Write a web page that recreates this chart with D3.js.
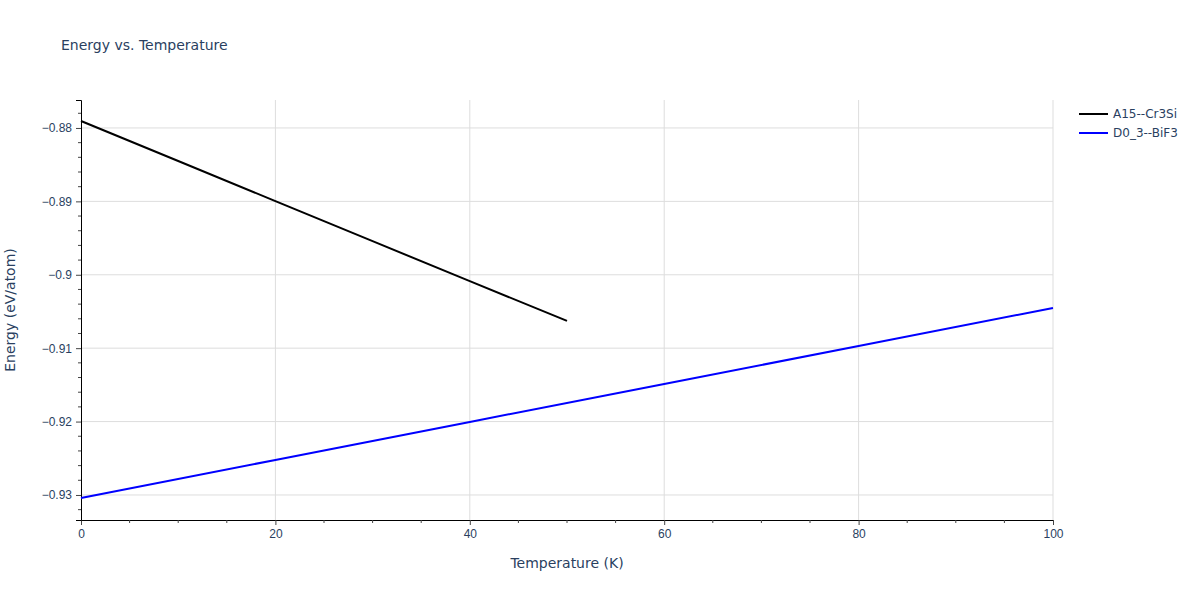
<!DOCTYPE html>
<html>
<head>
<meta charset="utf-8">
<script src="https://cdn.jsdelivr.net/npm/d3@7"></script>
<style>
  body { margin: 0; background: #fff; }
  svg { font-family: "DejaVu Sans", verdana, arial, sans-serif; }
</style>
</head>
<body>
<svg width="1200" height="600"></svg>
<script>
// datos
const seriesNames = ["A15--Cr3Si", "D0_3--BiF3"];
const seriesColors = ["#000000", "#0000ff"];
const tempA15 = [0, 10, 20, 30, 40, 50];
const energyA15 = [-0.87905, -0.88450, -0.88996, -0.89542, -0.90087, -0.90629];
const tempD03 = [0, 20, 40, 60, 80, 100];
const energyD03 = [-0.93041, -0.92523, -0.92005, -0.91488, -0.90970, -0.90452];
const xTicks = [0, 20, 40, 60, 80, 100];
const yTicks = [-0.88, -0.89, -0.9, -0.91, -0.92, -0.93];
const yTickLabels = ["\u22120.88", "\u22120.89", "\u22120.9", "\u22120.91", "\u22120.92", "\u22120.93"];

const svg = d3.select("svg");
const plotLeft = 81, plotRight = 1053, plotTop = 100, plotBottom = 520;
const textColor = "#2a3f5f";

const x = d3.scaleLinear().domain([0, 100]).range([plotLeft, plotRight]);
const y = d3.scaleLinear().domain([-0.93341, -0.87619]).range([plotBottom, plotTop]);

// rejilla
svg.append("g").selectAll("line").data(xTicks.slice(1)).enter().append("line")
  .attr("x1", d => x(d)).attr("x2", d => x(d))
  .attr("y1", plotTop).attr("y2", plotBottom)
  .attr("stroke", "#dddddd").attr("stroke-width", 1);
svg.append("g").selectAll("line").data(yTicks).enter().append("line")
  .attr("x1", plotLeft).attr("x2", plotRight)
  .attr("y1", d => y(d)).attr("y2", d => y(d))
  .attr("stroke", "#dddddd").attr("stroke-width", 1);

// ejes
const xMinor = d3.range(0, 101, 5).filter(d => d % 20 !== 0);
const yMinor = d3.range(-0.932, -0.8761, 0.002).filter(d => Math.abs(Math.round(d * 100) - d * 100) > 1e-6);

const xAxis = svg.append("g").attr("transform", `translate(0,${plotBottom})`);
xAxis.call(d3.axisBottom(x).tickValues(xTicks).tickSize(5).tickPadding(4).tickFormat(d3.format("d")));
xAxis.selectAll("line").attr("stroke", "#444").attr("stroke-width", 1);
xAxis.select(".domain").attr("stroke", "#000");
xAxis.selectAll("text").attr("fill", textColor).style("font-size", "12px");
xAxis.selectAll(".minor").data(xMinor).enter().append("line").attr("class", "minor")
  .attr("x1", d => x(d)).attr("x2", d => x(d)).attr("y1", 0).attr("y2", 3)
  .attr("stroke", "#444");

const yAxis = svg.append("g").attr("transform", `translate(${plotLeft},0)`);
yAxis.call(d3.axisLeft(y).tickValues(yTicks).tickSize(5).tickPadding(4)
  .tickFormat((d, i) => yTickLabels[i]));
yAxis.selectAll("line").attr("stroke", "#444").attr("stroke-width", 1);
yAxis.select(".domain").attr("stroke", "#000");
yAxis.selectAll("text").attr("fill", textColor).style("font-size", "12px");
yAxis.selectAll(".minor").data(yMinor).enter().append("line").attr("class", "minor")
  .attr("x1", -3).attr("x2", 0).attr("y1", d => y(d)).attr("y2", d => y(d))
  .attr("stroke", "#444");

// lineas
const line = d3.line().x(d => x(d[0])).y(d => y(d[1]));
const data = [d3.zip(tempA15, energyA15), d3.zip(tempD03, energyD03)];
svg.append("g").selectAll("path").data(data).enter().append("path")
  .attr("d", line).attr("fill", "none")
  .attr("stroke", (d, i) => seriesColors[i]).attr("stroke-width", 2);

// textos
svg.append("text").attr("x", 61).attr("y", 50).text("Energy vs. Temperature")
  .attr("fill", textColor).style("font-size", "14px");
svg.append("text").attr("x", (plotLeft + plotRight) / 2).attr("y", 568).attr("text-anchor", "middle")
  .text("Temperature (K)").attr("fill", textColor).style("font-size", "14px");
svg.append("text").attr("transform", `translate(15,${(plotTop + plotBottom) / 2}) rotate(-90)`)
  .attr("text-anchor", "middle").text("Energy (eV/atom)")
  .attr("fill", textColor).style("font-size", "14px");

// leyenda
const legend = svg.append("g").attr("transform", "translate(1079,114)");
const items = legend.selectAll("g").data(seriesNames).enter().append("g")
  .attr("transform", (d, i) => `translate(0,${i * 19})`);
items.append("line").attr("x1", 0).attr("x2", 29).attr("y1", 0).attr("y2", 0)
  .attr("stroke", (d, i) => seriesColors[i]).attr("stroke-width", 2);
items.append("text").attr("x", 34).attr("y", 4).text(d => d)
  .attr("fill", textColor).style("font-size", "12px");
</script>
</body>
</html>
